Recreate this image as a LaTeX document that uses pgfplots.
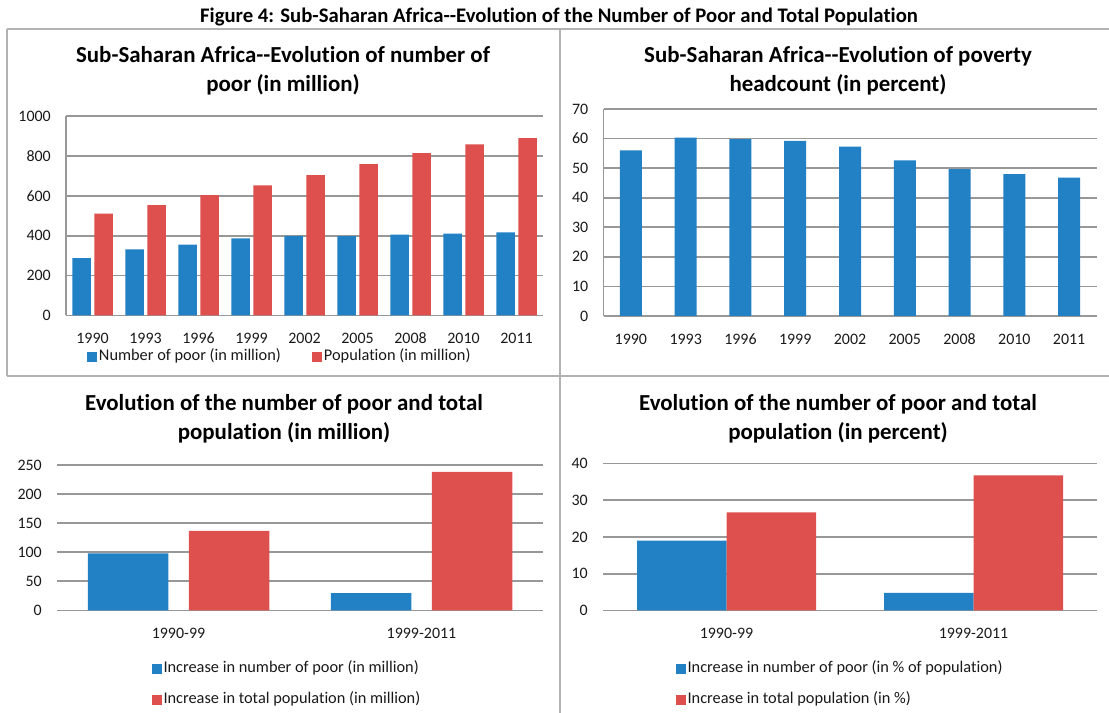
\documentclass[border=0pt]{standalone}
\usepackage{fontspec}
\setmainfont{Carlito}[Ligatures={NoCommon}]
\usepackage{pgfplots}
\pgfplotsset{compat=1.18}
\definecolor{xblue}{RGB}{34,128,196}
\definecolor{xred}{RGB}{221,80,78}
\definecolor{xgrid}{RGB}{152,152,152}
\definecolor{xframe}{RGB}{178,178,178}
\definecolor{xtext}{RGB}{25,25,25}
\newcommand{\tickfont}{\fontsize{16}{18}\selectfont}
\newcommand{\legfont}{\fontsize{16.4}{18}\selectfont}
\newcommand{\titlefont}{\fontsize{23}{29}\selectfont\bfseries}
\pgfplotsset{
  sqlegend/.style={legend image code/.code={\fill[##1] (0bp,-5bp) rectangle (10bp,5bp);}},
  xlstyle/.style={
    scale only axis,
    ymin=0,
    enlargelimits=false,
    axis x line*=bottom,
    axis y line*=left,
    axis line style={xgrid, line width=1.8bp},
    ymajorgrids,
    major grid style={xgrid, line width=1.8bp},
    tick style={draw=none},
    /pgf/number format/assume math mode=true,
    /pgf/number format/1000 sep={},
    tick label style={font=\tickfont, text=xtext, inner sep=0pt},
    yticklabel style={anchor=east, xshift=-15bp},
    xticklabel style={anchor=north, yshift=-12.5bp, text height=11.5bp, text depth=0bp},
    legend cell align=left,
    legend style={draw=none, fill=none, inner sep=0pt, outer sep=0pt, font=\legfont, text=xtext,
      nodes={inner sep=1.5bp, text height=11bp, text depth=3.5bp}},
  }
}
\begin{document}
\begin{tikzpicture}[x=1bp,y=1bp]
\useasboundingbox (0,0) rectangle (1109,713);
% frames
\draw[xframe, line width=2bp] (7,684) -- (1109,684);
\draw[xframe, line width=2bp] (7,684) -- (7,337);
\draw[xframe, line width=2bp] (7,337) -- (1109,337);
\draw[xframe, line width=2bp] (560,684) -- (560,0);
% figure title
\node[font=\fontsize{20.8}{22}\selectfont\bfseries, text=black] at (559,696) {Figure 4: Sub-Saharan Africa-{}-Evolution of the Number of Poor and Total Population};
% panel titles
\node[font=\titlefont, align=center] at (283,642.5) {Sub-Saharan Africa-{}-Evolution of number of\\poor (in million)};
\node[font=\titlefont, align=center] at (838,642.5) {Sub-Saharan Africa-{}-Evolution of poverty\\headcount (in percent)};
\node[font=\titlefont, align=center] at (284,294.5) {Evolution of the number of poor and total\\population (in million)};
\node[font=\titlefont, align=center] at (838,294.5) {Evolution of the number of poor and total\\population (in percent)};

% top-left
\begin{axis}[xlstyle,
  at={(66bp,397.5bp)}, anchor=south west, width=477bp, height=199.5bp,
  xmin=-0.5, xmax=8.5, ymax=1000, ytick={0,200,...,1000},
  xtick={0,...,8}, xticklabels={1990,1993,1996,1999,2002,2005,2008,2010,2011},
  ybar=3.5bp, bar width=18.5bp,
  legend columns=2,
  legend style={at={(axis description cs:0.045,-0.208)}, anchor=west,
    /tikz/every even column/.append style={column sep=30bp}},
]
\addplot[fill=xblue, draw=none, sqlegend] coordinates {(0,288)(1,331)(2,355)(3,386)(4,399)(5,398)(6,405)(7,410)(8,417)};
\addlegendentry{Number of poor (in million)}
\addplot[fill=xred, draw=none, sqlegend] coordinates {(0,511)(1,553)(2,603)(3,652)(4,704)(5,759)(6,814)(7,858)(8,889)};
\addlegendentry{Population (in million)}
\end{axis}

% top-right
\begin{axis}[xlstyle,
  at={(603.5bp,397bp)}, anchor=south west, width=493bp, height=207bp,
  xmin=-0.5, xmax=8.5, ymax=70, ytick={0,10,...,70},
  xtick={0,...,8}, xticklabels={1990,1993,1996,1999,2002,2005,2008,2010,2011},
  ybar, bar width=22bp,
]
\addplot[fill=xblue, draw=none] coordinates {(0,56.0)(1,60.3)(2,59.8)(3,59.2)(4,57.3)(5,52.6)(6,49.7)(7,48.0)(8,46.8)};
\end{axis}

% bottom-left
\begin{axis}[xlstyle,
  at={(57bp,102.5bp)}, anchor=south west, width=486bp, height=145.5bp,
  y axis line style={draw=none},
  xmin=-0.5, xmax=1.5, ymax=250, ytick={0,50,...,250},
  xtick={0,1}, xticklabels={1990-99,1999-2011},
  ybar=20.5bp, bar width=80.5bp,
  legend style={at={(axis description cs:0.1955,-0.34)}, anchor=north west, /tikz/row sep=13.5bp},
]
\addplot[fill=xblue, draw=none, sqlegend] coordinates {(0,98)(1,30)};
\addlegendentry{Increase in number of poor (in million)}
\addplot[fill=xred, draw=none, sqlegend] coordinates {(0,137)(1,238)};
\addlegendentry{Increase in total population (in million)}
\end{axis}

% bottom-right
\begin{axis}[xlstyle,
  at={(603bp,102.5bp)}, anchor=south west, width=494bp, height=147bp,
  y axis line style={draw=none},
  xmin=-0.5, xmax=1.5, ymax=40, ytick={0,10,...,40},
  xtick={0,1}, xticklabels={1990-99,1999-2011},
  ybar=0bp, bar width=89.5bp,
  legend style={at={(axis description cs:0.148,-0.337)}, anchor=north west, /tikz/row sep=13.5bp},
]
\addplot[fill=xblue, draw=none, sqlegend] coordinates {(0,19.0)(1,4.8)};
\addlegendentry{Increase in number of poor (in \% of population)}
\addplot[fill=xred, draw=none, sqlegend] coordinates {(0,26.7)(1,36.8)};
\addlegendentry{Increase in total population (in \%)}
\end{axis}
\end{tikzpicture}
\end{document}
